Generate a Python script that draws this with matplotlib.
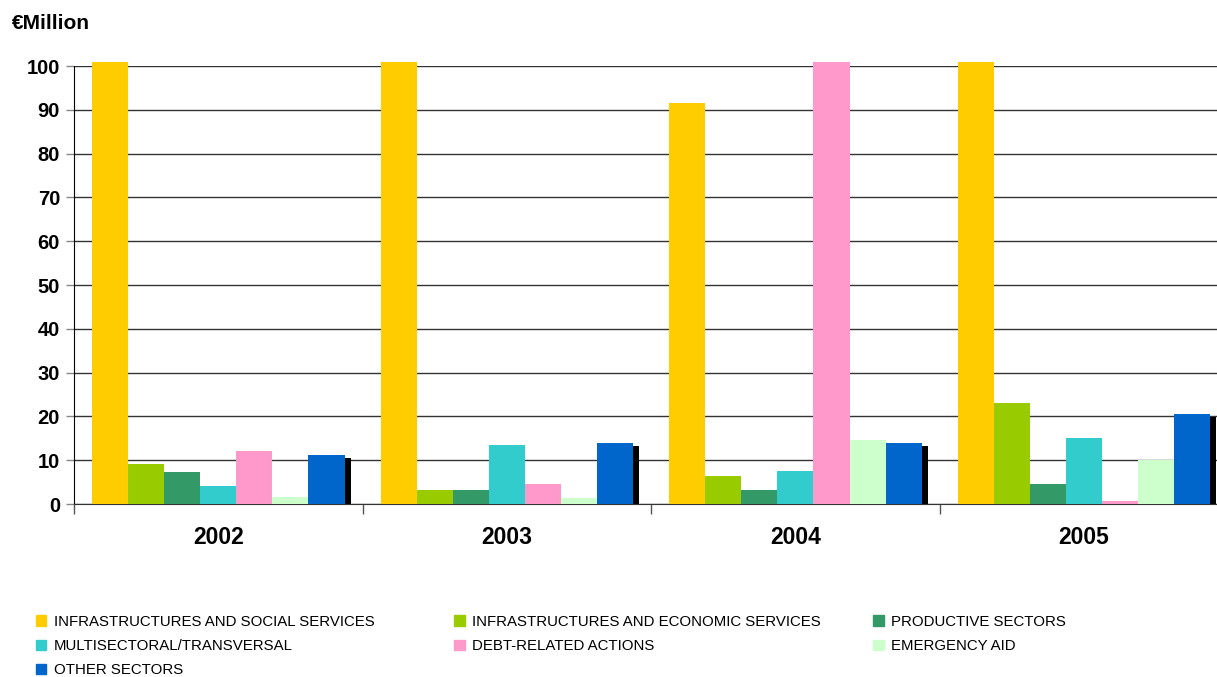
import matplotlib
matplotlib.use('Agg')
import matplotlib.pyplot as plt
import matplotlib.patches as mpatches
import numpy as np

plt.rcParams['font.family'] = ['Liberation Sans', 'DejaVu Sans']

years = ['2002', '2003', '2004', '2005']
sectors = ['INFRASTRUCTURES AND SOCIAL SERVICES',
           'INFRASTRUCTURES AND ECONOMIC SERVICES',
           'PRODUCTIVE SECTORS',
           'MULTISECTORAL/TRANSVERSAL',
           'DEBT-RELATED ACTIONS',
           'EMERGENCY AID',
           'OTHER SECTORS']
colors = ['#FFCC00', '#99CC00', '#339966', '#33CCCC', '#FF99CC', '#CCFFCC', '#0066CC']

# values in EUR million (bars above 100 are cut at the top of the chart)
social = [101, 101, 91.5, 101]
economic = [9.2, 3.3, 6.3, 23.0]
productive = [7.2, 3.3, 3.3, 4.6]
multisect = [4.2, 13.5, 7.6, 15.1]
debt = [12.1, 4.6, 101, 0.75]
emergency = [1.7, 1.3, 14.6, 10.0]
other = [11.3, 14.0, 13.9, 20.5]

series = [social, economic, productive, multisect, debt, emergency, other]

fig = plt.figure(figsize=(12.17, 6.77), dpi=100)
ax = fig.add_axes([0.0608, 0.2555, 0.9485, 0.647])

x = np.arange(len(years))
w = 0.125
for i, vals in enumerate(series):
    ax.bar(x + (i - 3) * w, vals, w, color=colors[i], zorder=3, clip_on=False,
           label=sectors[i])

# black shadow behind the last series
ax.bar(x + 3 * w + 0.021, np.array(other) - 0.7, w, color='black', zorder=2.5)

ax.set_ylim(0, 100)
ax.set_xlim(-0.5, 3.5)
ax.set_yticks(range(0, 101, 10))
ax.yaxis.grid(True, color='#333333', linewidth=1.0, zorder=1)
for s in ['top', 'right']:
    ax.spines[s].set_visible(False)
ax.spines['left'].set_color('black')
ax.spines['bottom'].set_color('#333333')
ax.tick_params(axis='y', length=6, width=1, color='#888888', pad=4, labelsize=14.5)
for t in ax.get_yticklabels():
    t.set_fontweight('bold')

ax.set_xticks(x)
ax.set_xticklabels(years, fontsize=16.5, fontweight='bold')
ax.tick_params(axis='x', length=0, pad=16)
ax.set_xticks(np.arange(-0.5, 4, 1), minor=True)
ax.tick_params(axis='x', which='minor', length=7, width=1, color='#555555')

fig.text(0.010, 0.966, '\u20acMillion', fontsize=15, fontweight='bold', va='center')

# legend in three columns, filled row by row
handles = [mpatches.Patch(color=c) for c in colors]
cols = [[0, 3, 6], [1, 4], [2, 5]]
col_x = [0.0245, 0.3685, 0.7125]
for cx, idx in zip(col_x, cols):
    leg = fig.legend([handles[k] for k in idx], [sectors[k] for k in idx],
                     loc='upper left', bbox_to_anchor=(cx, 0.1005),
                     frameon=False, fontsize=10.8, handlelength=0.7, handleheight=0.7,
                     handletextpad=0.5, labelspacing=0.68, borderaxespad=0)

fig.savefig('out.png', dpi=100)
